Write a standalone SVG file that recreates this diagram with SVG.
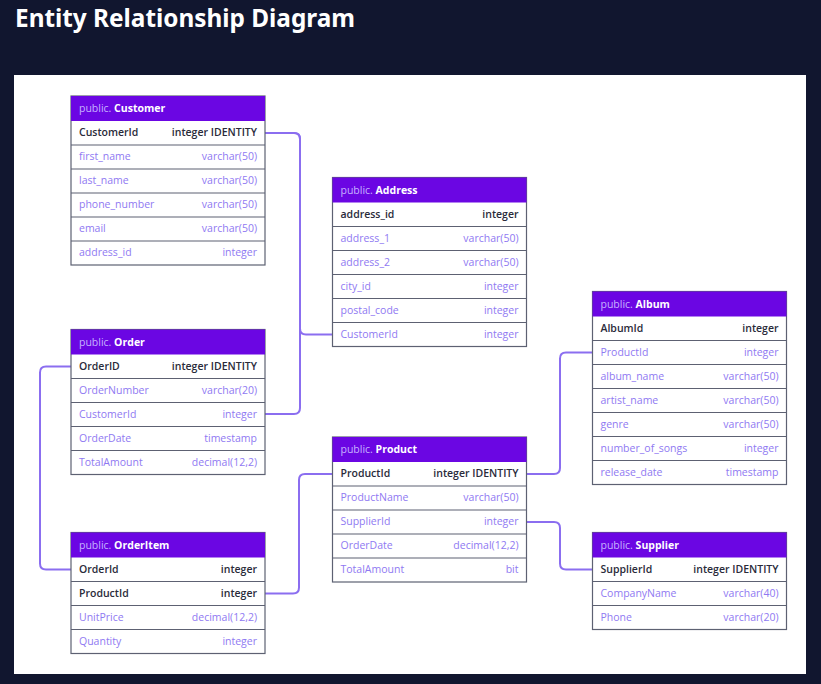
<svg xmlns="http://www.w3.org/2000/svg" width="821" height="684" viewBox="0 0 821 684">
<style>
.bg{fill:#11162f}
.panel{fill:#ffffff}
.title{font-family:"Noto Sans","Open Sans",sans-serif;font-weight:700;font-size:25px;fill:#ffffff}
.hdr{fill:#6b06e3}
.body{fill:#ffffff;stroke:#5d6172;stroke-width:1.2}
.sep{stroke:#5d6172;stroke-width:1.2}
text{font-family:"Open Sans","Noto Sans",sans-serif;font-size:10.5px}
.pub{fill:#c6b2ff}
.tn{fill:#ffffff;font-weight:700}
.k{fill:#2a2b3a;font-weight:600}
.c{fill:#8f79f2}
.r{text-anchor:end}
.conn path{fill:none;stroke:#8b6ef0;stroke-width:2}
</style>
<rect class="bg" x="0" y="0" width="821" height="684"/>
<rect class="panel" x="14" y="75" width="792" height="599"/>
<text class="title" x="15" y="27" textLength="340" lengthAdjust="spacingAndGlyphs">Entity Relationship Diagram</text>

<g class="conn" id="connectors">
<path d="M265,133 H294 Q300,133 300,139 V328.5 Q300,334.5 306,334.5 H332.5"/>
<path d="M265,414 H294 Q300,414 300,408 V139 Q300,133 294,133 H265"/>
<path d="M71,366.5 H46 Q40,366.5 40,372.5 V563.5 Q40,569.5 46,569.5 H71"/>
<path d="M265,593.5 H293 Q299,593.5 299,587.5 V480 Q299,474 305,474 H332.5"/>
<path d="M526.5,474 H554 Q560,474 560,468 V358.5 Q560,352.5 566,352.5 H592.5"/>
<path d="M526.5,522 H554 Q560,522 560,528 V563.5 Q560,569.5 566,569.5 H592.5"/>
</g>

<g id="customer" transform="translate(71,96)">
<rect class="body" x="0" y="0" width="194" height="169"/>
<rect class="hdr" x="0" y="0" width="194" height="25"/>
<text x="8" y="16"><tspan class="pub">public. </tspan><tspan class="tn">Customer</tspan></text>
<line class="sep" x1="0" y1="49" x2="194" y2="49"/>
<line class="sep" x1="0" y1="73" x2="194" y2="73"/>
<line class="sep" x1="0" y1="97" x2="194" y2="97"/>
<line class="sep" x1="0" y1="121" x2="194" y2="121"/>
<line class="sep" x1="0" y1="145" x2="194" y2="145"/>
<text class="k" x="8" y="40">CustomerId</text><text class="k r" x="186" y="40">integer IDENTITY</text>
<text class="c" x="8" y="64">first_name</text><text class="c r" x="186" y="64">varchar(50)</text>
<text class="c" x="8" y="88">last_name</text><text class="c r" x="186" y="88">varchar(50)</text>
<text class="c" x="8" y="112">phone_number</text><text class="c r" x="186" y="112">varchar(50)</text>
<text class="c" x="8" y="136">email</text><text class="c r" x="186" y="136">varchar(50)</text>
<text class="c" x="8" y="160">address_id</text><text class="c r" x="186" y="160">integer</text>
</g>

<g id="address" transform="translate(332.5,177.5)">
<rect class="body" x="0" y="0" width="194" height="169"/>
<rect class="hdr" x="0" y="0" width="194" height="25"/>
<text x="8" y="16"><tspan class="pub">public. </tspan><tspan class="tn">Address</tspan></text>
<line class="sep" x1="0" y1="49" x2="194" y2="49"/>
<line class="sep" x1="0" y1="73" x2="194" y2="73"/>
<line class="sep" x1="0" y1="97" x2="194" y2="97"/>
<line class="sep" x1="0" y1="121" x2="194" y2="121"/>
<line class="sep" x1="0" y1="145" x2="194" y2="145"/>
<text class="k" x="8" y="40">address_id</text><text class="k r" x="186" y="40">integer</text>
<text class="c" x="8" y="64">address_1</text><text class="c r" x="186" y="64">varchar(50)</text>
<text class="c" x="8" y="88">address_2</text><text class="c r" x="186" y="88">varchar(50)</text>
<text class="c" x="8" y="112">city_id</text><text class="c r" x="186" y="112">integer</text>
<text class="c" x="8" y="136">postal_code</text><text class="c r" x="186" y="136">integer</text>
<text class="c" x="8" y="160">CustomerId</text><text class="c r" x="186" y="160">integer</text>
</g>

<g id="order" transform="translate(71,329.5)">
<rect class="body" x="0" y="0" width="194" height="145"/>
<rect class="hdr" x="0" y="0" width="194" height="25"/>
<text x="8" y="16"><tspan class="pub">public. </tspan><tspan class="tn">Order</tspan></text>
<line class="sep" x1="0" y1="49" x2="194" y2="49"/>
<line class="sep" x1="0" y1="73" x2="194" y2="73"/>
<line class="sep" x1="0" y1="97" x2="194" y2="97"/>
<line class="sep" x1="0" y1="121" x2="194" y2="121"/>
<text class="k" x="8" y="40">OrderID</text><text class="k r" x="186" y="40">integer IDENTITY</text>
<text class="c" x="8" y="64">OrderNumber</text><text class="c r" x="186" y="64">varchar(20)</text>
<text class="c" x="8" y="88">CustomerId</text><text class="c r" x="186" y="88">integer</text>
<text class="c" x="8" y="112">OrderDate</text><text class="c r" x="186" y="112">timestamp</text>
<text class="c" x="8" y="136">TotalAmount</text><text class="c r" x="186" y="136">decimal(12,2)</text>
</g>

<g id="orderitem" transform="translate(71,532.5)">
<rect class="body" x="0" y="0" width="194" height="121"/>
<rect class="hdr" x="0" y="0" width="194" height="25"/>
<text x="8" y="16"><tspan class="pub">public. </tspan><tspan class="tn">OrderItem</tspan></text>
<line class="sep" x1="0" y1="49" x2="194" y2="49"/>
<line class="sep" x1="0" y1="73" x2="194" y2="73"/>
<line class="sep" x1="0" y1="97" x2="194" y2="97"/>
<text class="k" x="8" y="40">OrderId</text><text class="k r" x="186" y="40">integer</text>
<text class="k" x="8" y="64">ProductId</text><text class="k r" x="186" y="64">integer</text>
<text class="c" x="8" y="88">UnitPrice</text><text class="c r" x="186" y="88">decimal(12,2)</text>
<text class="c" x="8" y="112">Quantity</text><text class="c r" x="186" y="112">integer</text>
</g>

<g id="product" transform="translate(332.5,437)">
<rect class="body" x="0" y="0" width="194" height="145"/>
<rect class="hdr" x="0" y="0" width="194" height="25"/>
<text x="8" y="16"><tspan class="pub">public. </tspan><tspan class="tn">Product</tspan></text>
<line class="sep" x1="0" y1="49" x2="194" y2="49"/>
<line class="sep" x1="0" y1="73" x2="194" y2="73"/>
<line class="sep" x1="0" y1="97" x2="194" y2="97"/>
<line class="sep" x1="0" y1="121" x2="194" y2="121"/>
<text class="k" x="8" y="40">ProductId</text><text class="k r" x="186" y="40">integer IDENTITY</text>
<text class="c" x="8" y="64">ProductName</text><text class="c r" x="186" y="64">varchar(50)</text>
<text class="c" x="8" y="88">SupplierId</text><text class="c r" x="186" y="88">integer</text>
<text class="c" x="8" y="112">OrderDate</text><text class="c r" x="186" y="112">decimal(12,2)</text>
<text class="c" x="8" y="136">TotalAmount</text><text class="c r" x="186" y="136">bit</text>
</g>

<g id="album" transform="translate(592.5,291.5)">
<rect class="body" x="0" y="0" width="194" height="193"/>
<rect class="hdr" x="0" y="0" width="194" height="25"/>
<text x="8" y="16"><tspan class="pub">public. </tspan><tspan class="tn">Album</tspan></text>
<line class="sep" x1="0" y1="49" x2="194" y2="49"/>
<line class="sep" x1="0" y1="73" x2="194" y2="73"/>
<line class="sep" x1="0" y1="97" x2="194" y2="97"/>
<line class="sep" x1="0" y1="121" x2="194" y2="121"/>
<line class="sep" x1="0" y1="145" x2="194" y2="145"/>
<line class="sep" x1="0" y1="169" x2="194" y2="169"/>
<text class="k" x="8" y="40">AlbumId</text><text class="k r" x="186" y="40">integer</text>
<text class="c" x="8" y="64">ProductId</text><text class="c r" x="186" y="64">integer</text>
<text class="c" x="8" y="88">album_name</text><text class="c r" x="186" y="88">varchar(50)</text>
<text class="c" x="8" y="112">artist_name</text><text class="c r" x="186" y="112">varchar(50)</text>
<text class="c" x="8" y="136">genre</text><text class="c r" x="186" y="136">varchar(50)</text>
<text class="c" x="8" y="160">number_of_songs</text><text class="c r" x="186" y="160">integer</text>
<text class="c" x="8" y="184">release_date</text><text class="c r" x="186" y="184">timestamp</text>
</g>

<g id="supplier" transform="translate(592.5,532.5)">
<rect class="body" x="0" y="0" width="194" height="97"/>
<rect class="hdr" x="0" y="0" width="194" height="25"/>
<text x="8" y="16"><tspan class="pub">public. </tspan><tspan class="tn">Supplier</tspan></text>
<line class="sep" x1="0" y1="49" x2="194" y2="49"/>
<line class="sep" x1="0" y1="73" x2="194" y2="73"/>
<text class="k" x="8" y="40">SupplierId</text><text class="k r" x="186" y="40">integer IDENTITY</text>
<text class="c" x="8" y="64">CompanyName</text><text class="c r" x="186" y="64">varchar(40)</text>
<text class="c" x="8" y="88">Phone</text><text class="c r" x="186" y="88">varchar(20)</text>
</g>
</svg>
